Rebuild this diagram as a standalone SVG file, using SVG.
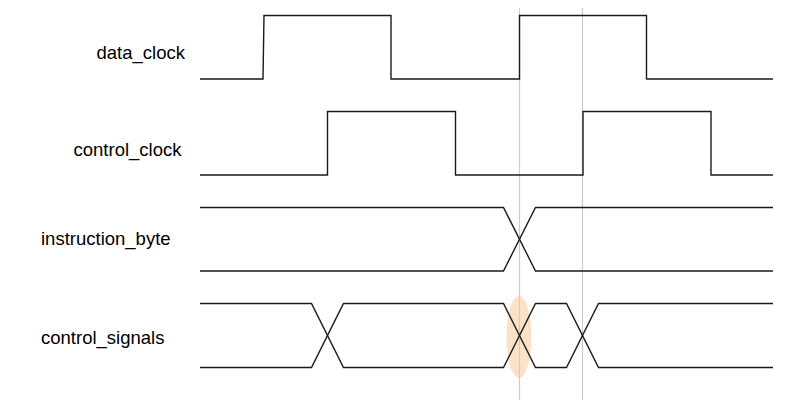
<svg xmlns="http://www.w3.org/2000/svg" width="806" height="416" viewBox="0 0 806 416">
<style>
.sig{fill:none;stroke:#1a1a1a;stroke-width:1.4;stroke-linejoin:miter}
.guide{stroke:#cccccc;stroke-width:1.2}
.lbl{font-family:"Liberation Sans",Arial,sans-serif;font-size:18.5px;fill:#000}
</style>
<rect width="806" height="416" fill="#fff"/>
<ellipse cx="519" cy="337" rx="12.5" ry="41" fill="#fbdcc0" opacity="0.85"/>
<g id="guides">
<line class="guide" x1="519.5" y1="8" x2="519.5" y2="400"/>
<line class="guide" x1="582.5" y1="8" x2="582.5" y2="400"/>
</g>
<g id="data_clock">
<text class="lbl" x="96.5" y="59">data_clock</text>
<path class="sig" d="M200,79 H263 L264,15.5 H391 V79 H519.5 V15.5 H646.5 V79 H773"/>
</g>
<g id="control_clock">
<text class="lbl" x="73.5" y="156">control_clock</text>
<path class="sig" d="M200,175 H327.5 V111.5 H455.5 V175 H583 V111.5 H711 V175 H773"/>
</g>
<g id="instruction_byte">
<text class="lbl" x="41" y="245">instruction_byte</text>
<path class="sig" d="M200,207.5 H503.5 L535.5,271 H773"/>
<path class="sig" d="M200,271 H503.5 L535.5,207.5 H773"/>
</g>
<g id="control_signals">
<text class="lbl" x="41" y="344">control_signals</text>
<path class="sig" d="M200,303.5 H311.5 L343.5,367.5 H503.5 L535.5,303.5 H566.5 L598.5,367.5 H773"/>
<path class="sig" d="M200,367.5 H311.5 L343.5,303.5 H503.5 L535.5,367.5 H566.5 L598.5,303.5 H773"/>
</g>
</svg>
